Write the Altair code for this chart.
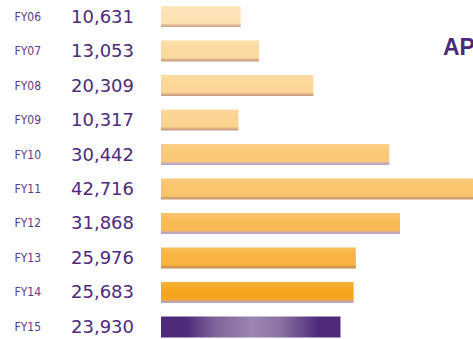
import altair as alt
import pandas as pd

years = ["FY06", "FY07", "FY08", "FY09", "FY10", "FY11", "FY12", "FY13", "FY14", "FY15"]
values = [10631, 13053, 20309, 10317, 30442, 42716, 31868, 25976, 25683, 23930]
labels = ["10,631", "13,053", "20,309", "10,317", "30,442", "42,716", "31,868", "25,976", "25,683", "23,930"]

base_colors = ["#FDE3B4", "#FCDA9F", "#FCD696", "#FBD391", "#FAC978", "#FAC46C",
               "#F9BA56", "#F8B341", "#F6A61E", "#4F2A7B"]
shadow_colors = ["#D2A98C", "#CFA286", "#CDA084", "#CB9E82", "#B9A6C8", "#C99872",
                 "#B8A4C6", "#C8904C", "#B9A6C8", "#4F2A7B"]

df = pd.DataFrame({"year": years, "value": values, "label": labels})

purple = "#4E2A7A"

xscale = alt.Scale(domain=[0, 41600], nice=False, zero=True)
yscale = alt.Scale(domain=years, range=[6, 337.5], paddingInner=0.391, paddingOuter=0)
yaxis = alt.Axis(title=None, ticks=False, tickSize=0, domain=False, grid=False,
                 labelAlign="left", labelPadding=147,
                 labelFont="DejaVu Sans Condensed, Liberation Sans",
                 labelFontSize=12, labelColor="#5A3C87", labelBaseline="middle")


def lighten(hexc, f):
    r, g, b = int(hexc[1:3], 16), int(hexc[3:5], 16), int(hexc[5:7], 16)
    r = int(r + (255 - r) * f); g = int(g + (255 - g) * f); b = int(b + (255 - b) * f)
    return "#%02X%02X%02X" % (r, g, b)


layers = []
for i, yr in enumerate(years):
    if yr == "FY15":
        grad = alt.Gradient(gradient="linear", x1=0, y1=0, x2=1, y2=0, stops=[
            alt.GradientStop(color="#4F2A7B", offset=0),
            alt.GradientStop(color="#4F2A7B", offset=0.14),
            alt.GradientStop(color="#7E6499", offset=0.3),
            alt.GradientStop(color="#9A84B1", offset=0.5),
            alt.GradientStop(color="#8D76A6", offset=0.65),
            alt.GradientStop(color="#4F2A7B", offset=0.88),
            alt.GradientStop(color="#4F2A7B", offset=1),
        ])
    else:
        bc = base_colors[i]
        grad = alt.Gradient(gradient="linear", x1=0, y1=0, x2=0, y2=1, stops=[
            alt.GradientStop(color=lighten(bc, 0.12), offset=0),
            alt.GradientStop(color=bc, offset=0.45),
            alt.GradientStop(color=bc, offset=0.82),
            alt.GradientStop(color=shadow_colors[i], offset=0.95),
            alt.GradientStop(color=shadow_colors[i], offset=1),
        ])
    layers.append(
        alt.Chart(df).transform_filter(alt.datum.year == yr)
        .mark_bar(fill=grad, clip=True, cornerRadius=0, strokeWidth=0)
        .encode(
            x=alt.X("value:Q", scale=xscale, axis=None),
            y=alt.Y("year:N", scale=yscale, axis=yaxis),
        )
    )

value_text = alt.Chart(df).mark_text(
    align="right", baseline="middle", dx=-27, dy=1,
    font="DejaVu Sans", fontSize=18, color=purple, clip=False
).encode(
    x=alt.XDatum(0, scale=xscale, axis=None),
    y=alt.Y("year:N", scale=yscale, axis=yaxis),
    text="label:N",
)

title_text = alt.Chart(pd.DataFrame({"t": ["APPLICATIONS"]})).mark_text(
    align="left", baseline="alphabetic", font="Liberation Sans", fontWeight="bold",
    fontSize=23, color="#4B2A7B", clip=True
).encode(
    x=alt.value(282), y=alt.value(55), text="t:N"
)

chart = alt.layer(*layers, value_text, title_text).properties(
    width=312, height=339, background="white",
    padding={"left": 161, "top": 0, "right": 0, "bottom": 0},
    autosize=alt.AutoSizeParams(type="none"),
).configure_view(stroke="transparent", strokeWidth=0).configure_axis(domain=False, grid=False)

chart.save("out.html", embed_options={"renderer": "svg", "actions": False})
